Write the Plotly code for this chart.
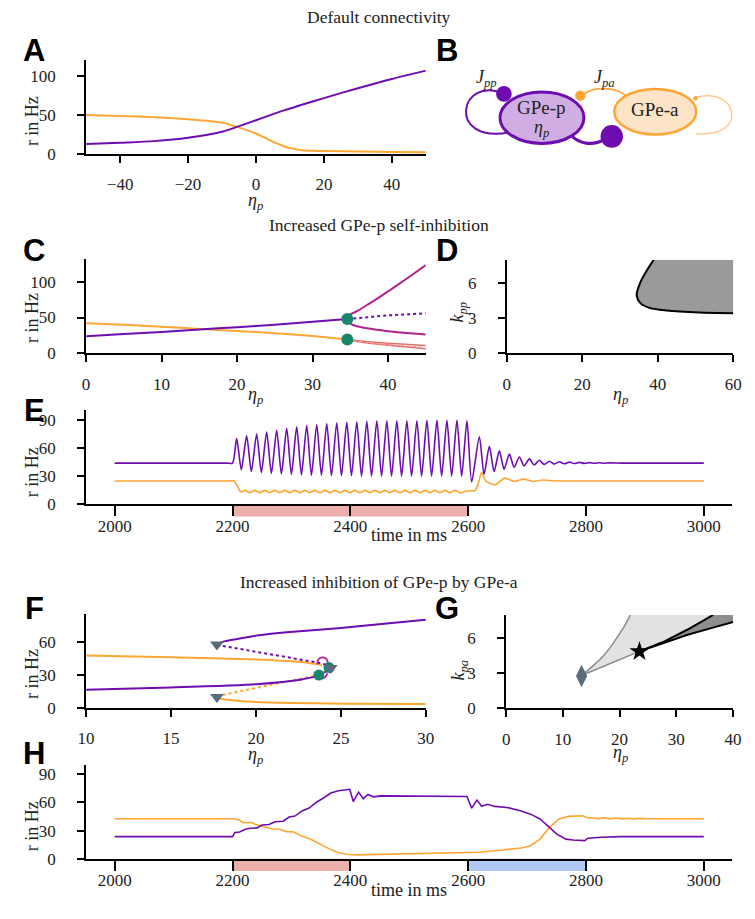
import plotly.graph_objects as go

W, H = 755, 919
SERIF = 'Liberation Serif'
SANS = 'Liberation Sans'
TXT = '#222222'
PURPLE = '#6E0CB0'
ORANGE = '#FFA533'
MAGENTA = '#B0228C'
SALMON = '#E4736E'
TEAL = '#17876B'
SLATE = '#5C6B7A'
RED_BAR = '#EBB0AB'
BLUE_BAR = '#AEC8F2'

# ---------------- data ----------------
# Panel A (default connectivity, steady states vs eta_p)
A_eta = [-50, -40, -30, -20, -10, -5.6, 0, 4, 8.7, 10.6, 13.5, 20, 30, 40, 50]
A_p = [12.7, 14.4, 16.5, 20.8, 28.5, 34.7, 43.2, 49.5, 56.5, 59, 63, 71.6, 84.3, 96.2, 106.8]
A_a = [50, 48.8, 47.2, 44.6, 40.2, 34.7, 26.3, 17.8, 9.3, 7.2, 4.7, 3.8, 3.1, 2.7, 2.4]

# Panel C (increased self-inhibition)
C_eta = [0, 5, 10, 15, 20, 25, 30, 34.6]
C_p = [24, 27, 30, 33.5, 36.5, 40, 44, 48]
C_a = [42, 40, 37.3, 34, 31.3, 28.2, 24.3, 19.4]
C_unst_eta = [34.6, 37, 40, 45]
C_unst_p = [48, 50.5, 53, 56]
C_unst_a = [19.4, 15.2, 12.2, 8.6]
C_lc_eta = [34.6, 34.7, 34.9, 35.3, 36, 37.2, 38.5, 40, 42.5, 45]
C_lc_p_max = [48, 51, 53.5, 56, 59.5, 67.5, 76, 86.5, 104.5, 123]
C_lc_p_min = [48, 45, 42.5, 40, 37.5, 35, 33, 31, 28.5, 26.3]
C_lc_a_eta = [34.6, 35.5, 37, 40, 45]
C_lc_a_max = [19.4, 18.2, 16.6, 14.2, 11]
C_lc_a_min = [19.4, 17.2, 14.8, 11.6, 6.4]
C_hopf_eta = [34.6, 34.6]
C_hopf_r = [48, 19.4]

# Panel D (Hopf boundary in eta_p / k_pp plane)
D_eta = [38.9, 37.1, 35.4, 34.4, 35.4, 38.0, 42.3, 51, 60]
D_k = [8.0, 7.1, 6.1, 5.0, 4.3, 3.87, 3.67, 3.5, 3.44]
D_xmax, D_ymax = 60, 8

# Panel E (time series, stimulation 2200-2600 ms)
E_stim = [2200, 2600]
E_p_t = [2000, 2190, 2200,
         2207, 2215, 2224, 2232, 2241, 2249, 2258, 2266, 2275, 2283, 2292, 2300,
         2309, 2317, 2326, 2334, 2343, 2351, 2360, 2368, 2377, 2385, 2394, 2402,
         2411, 2419, 2428, 2436, 2445, 2453, 2462, 2470, 2479, 2487, 2496, 2504,
         2513, 2521, 2530, 2538, 2547, 2555, 2564, 2572, 2581, 2589, 2598,
         2606, 2619, 2627, 2636, 2644, 2653, 2661, 2670, 2678, 2687, 2695, 2704,
         2712, 2721, 2729, 2738, 2746, 2755, 2763, 2772, 2780, 2789, 2797, 2806,
         2814, 2823, 2831, 2840, 2860, 2900, 3000]
E_p_r = [44, 44, 44,
         70, 37, 73, 35, 75, 34, 77, 33, 79, 32.5, 81, 32,
         82.5, 31.5, 84, 31, 85, 31, 86, 30.5, 87, 30.5, 87.5, 30.5,
         88, 30, 88.5, 30, 89, 30, 89, 30, 89, 30, 89, 30,
         89, 30, 89.5, 30, 89.5, 30, 89.5, 30, 89.5, 30, 89,
         24, 72, 32, 62, 35, 57, 37.5, 53.5, 39.5, 50.5, 41, 48.5,
         42, 47, 42.5, 46, 43, 45.5, 43.3, 45, 43.5, 44.8, 43.7, 44.5,
         43.8, 44.3, 43.9, 44.2, 44, 44, 44]
E_a_t = [2000, 2190, 2203, 2208, 2214,
         2221, 2229, 2238, 2246, 2255, 2263, 2272, 2280, 2289, 2297, 2306, 2314,
         2323, 2331, 2340, 2348, 2357, 2365, 2374, 2382, 2391, 2399, 2408, 2416,
         2425, 2433, 2442, 2450, 2459, 2467, 2476, 2484, 2493, 2501, 2510, 2518,
         2527, 2535, 2544, 2552, 2561, 2569, 2578, 2586, 2595,
         2604, 2612, 2617, 2623, 2630, 2646, 2662, 2678, 2694, 2710, 2726, 2745, 2770, 2850, 3000]
E_a_r = [25, 25, 25, 20, 13.4,
         15, 12.5, 15, 12.5, 15, 12.5, 15, 12.5, 15, 12.5, 15, 12.5,
         15, 12.5, 15, 12.5, 15, 12.5, 15, 12.5, 15, 12.5, 15, 12.5,
         15, 12.5, 15, 12.5, 15, 12.5, 15, 12.5, 15, 12.5, 15, 12.5,
         15, 12.5, 15, 12.5, 15, 12.5, 15, 12.5, 14,
         14.5, 15, 22, 34, 25, 21, 28, 24.5, 27, 24.5, 26, 25.2, 25, 25, 25]

# Panel F (increased inhibition of GPe-p by GPe-a)
F_up_p_eta = [17.7, 18.2, 18.9, 20, 22, 25, 28, 30]
F_up_p = [58.5, 61, 63, 66, 69.3, 73, 77.5, 80.4]
F_mid_p_eta = [17.7, 19, 20.4, 22, 23.6, 24.1, 24.35]
F_mid_p = [57.5, 54, 50, 46, 41.5, 39.5, 37]
F_low_p_eta = [10, 15, 20, 22.7, 23.7]
F_low_p = [16.6, 18.7, 21.7, 26, 29.5]
F_lu_p_eta = [23.7, 24.1, 24.35]
F_lu_p = [29.5, 33, 37]
F_up_a_eta = [10, 15, 20, 22.5, 23.7]
F_up_a = [47.9, 46.3, 44.3, 42.2, 39.8]
F_uu_a_eta = [23.7, 24.35]
F_uu_a = [39.8, 37]
F_mid_a_eta = [24.35, 23.7, 22, 20, 17.7]
F_mid_a = [36, 30, 24.7, 18.4, 10.8]
F_low_a_eta = [17.7, 18.2, 18.9, 20, 22, 25, 30]
F_low_a = [9, 7.6, 6.6, 5.4, 4.5, 3.9, 3.6]
F_lc1_eta = [23.63, 23.63, 23.77, 23.92, 24.07, 24.21, 24.21]
F_lc1_r = [39.7, 42.9, 45.5, 46.1, 45.5, 42.9, 39.7]
F_lc2_eta = [23.7, 23.9, 24.1, 24.2]
F_lc2_r = [27.5, 26.8, 28.5, 31.5]
F_fold_eta = [17.7, 17.7, 24.4]
F_fold_r = [58, 10, 36.5]
F_hopf_eta = [23.7, 24.3]
F_hopf_r = [30, 36.8]

# Panel G (eta_p / k_pa plane)
G_gray_eta = [13.3, 15, 16.8, 18.5, 19.6, 20.8, 21.9]
G_gray_k = [2.8, 3.5, 4.3, 5.3, 6.1, 7.0, 8.0]
G_line_eta = [13.3, 23.5]
G_line_k = [2.8, 4.87]
G_up_eta = [23.5, 28, 32, 36.5]
G_up_k = [4.87, 5.75, 6.75, 8.0]
G_lo_eta = [23.5, 28, 32, 36, 40]
G_lo_k = [4.87, 5.65, 6.3, 6.85, 7.4]
G_xmax, G_ymax = 40, 8
G_ct_eta, G_ct_k = [13.3], [2.76]
G_star_eta, G_star_k = [23.5], [4.87]

# Panel H (time series, two stimuli)
H_stim1 = [2200, 2400]
H_stim2 = [2600, 2800]
H_p_t = [2000, 2200, 2204, 2212, 2222, 2230, 2242, 2250, 2262, 2272, 2286, 2296, 2306,
         2318, 2330, 2342, 2355, 2367, 2380, 2399, 2405, 2414, 2422, 2430, 2439, 2452,
         2598, 2606, 2615, 2623, 2633, 2645, 2666, 2690, 2706, 2722, 2738, 2750, 2766,
         2778, 2798, 2803, 2826, 2858, 3000]
H_p_r = [23.7, 23.7, 28, 28.5, 31.5, 32.5, 33, 36, 36.5, 39.5, 40, 44.5, 45.5,
         51, 54, 60, 65, 70, 72.5, 74, 61, 71, 64, 68.5, 66, 67,
         66.4, 54, 62.5, 56, 58, 55.8, 54.7, 51, 47.6, 42.4, 33.5, 26.5, 21,
         20, 19.4, 22, 23, 23.7, 23.7]
H_a_t = [2000, 2204, 2212, 2218, 2226, 2232, 2240, 2256, 2268, 2280, 2292, 2304, 2316,
         2332, 2348, 2364, 2380, 2396, 2412, 2460, 2598, 2618, 2658, 2690, 2706, 2722,
         2738, 2754, 2770, 2794, 2802, 2812, 2822, 2832, 2842, 2852, 2862, 2872, 2882,
         2892, 2905, 3000]
H_a_r = [42.7, 42.7, 41, 38.5, 38.5, 39, 36.4, 33.5, 31.8, 31.5, 29, 28.5, 24.7,
         21.2, 15.9, 10.6, 6.4, 4.6, 4.2, 4.9, 6.2, 7, 9.5, 11.6, 14, 21,
         33.5, 42.4, 45.2, 45.9, 44, 43.5, 42.8, 43.6, 42.6, 43.4, 42.5, 43.2, 42.6,
         43.1, 42.7, 42.7]

# ---------------- figure ----------------
fig = go.Figure()


def line(x, y, color, ax, width=2, dash=None, shape='linear', smoothing=1.0):
    fig.add_trace(go.Scatter(x=x, y=y, mode='lines', xaxis='x' + ax, yaxis='y' + ax,
                             line=dict(color=color, width=width, dash=dash, shape=shape,
                                       smoothing=smoothing if shape == 'spline' else None),
                             hoverinfo='skip', showlegend=False))


def marks(x, y, ax, symbol, color, size):
    fig.add_trace(go.Scatter(x=x, y=y, mode='markers', xaxis='x' + ax, yaxis='y' + ax,
                             marker=dict(symbol=symbol, color=color, size=size, line=dict(width=0)),
                             hoverinfo='skip', showlegend=False, cliponaxis=False))


# A
line(A_eta, A_a, ORANGE, '', shape='spline', smoothing=0.8)
line(A_eta, A_p, PURPLE, '', shape='spline', smoothing=0.8)

# C
line(C_eta, C_a, ORANGE, '3', shape='spline', smoothing=0.6)
line(C_eta, C_p, PURPLE, '3', shape='spline', smoothing=0.6)
line(C_unst_eta, C_unst_p, PURPLE, '3', dash='dot')
line(C_lc_a_eta, C_lc_a_max, SALMON, '3', width=1.6, shape='spline', smoothing=0.6)
line(C_lc_a_eta, C_lc_a_min, SALMON, '3', width=1.6, shape='spline', smoothing=0.6)
line(C_unst_eta, C_unst_a, '#F0A0A0', '3', width=1.2, dash='dot')
line(C_lc_eta, C_lc_p_max, MAGENTA, '3', shape='spline', smoothing=0.8)
line(C_lc_eta, C_lc_p_min, MAGENTA, '3', shape='spline', smoothing=0.8)
marks(C_hopf_eta, C_hopf_r, '3', 'circle', TEAL, 12)

# D
fig.add_trace(go.Scatter(x=D_eta + [D_xmax, D_eta[0]], y=D_k + [D_ymax, D_k[0]], mode='lines',
                         xaxis='x4', yaxis='y4', fill='toself', fillcolor='#9A9A9A',
                         line=dict(width=0, color='rgba(0,0,0,0)'), hoverinfo='skip', showlegend=False))
line(D_eta, D_k, 'black', '4', width=2, shape='spline', smoothing=0.8)

# E
line(E_a_t, E_a_r, ORANGE, '5', width=1.6, shape='spline', smoothing=0.7)
line(E_p_t, E_p_r, PURPLE, '5', width=1.6, shape='spline', smoothing=0.7)

# F
line(F_low_a_eta, F_low_a, ORANGE, '6', shape='spline', smoothing=0.6)
line(F_mid_a_eta, F_mid_a, ORANGE, '6', dash='dot')
line(F_uu_a_eta, F_uu_a, ORANGE, '6', dash='dot')
line(F_up_a_eta, F_up_a, ORANGE, '6', shape='spline', smoothing=0.6)
line(F_up_p_eta, F_up_p, PURPLE, '6', shape='spline', smoothing=0.6)
line(F_mid_p_eta, F_mid_p, PURPLE, '6', dash='dot')
line(F_lu_p_eta, F_lu_p, PURPLE, '6', dash='dot')
line(F_low_p_eta, F_low_p, PURPLE, '6', shape='spline', smoothing=0.6)
line(F_lc1_eta, F_lc1_r, MAGENTA, '6', width=1.8, shape='spline', smoothing=1)
line(F_lc2_eta, F_lc2_r, MAGENTA, '6', width=1.8, shape='spline', smoothing=1)
marks(F_hopf_eta, F_hopf_r, '6', 'circle', TEAL, 11)
marks(F_fold_eta, F_fold_r, '6', 'triangle-down', SLATE, 12)

# G
G_light_x = G_gray_eta + G_up_eta[::-1] + G_line_eta[::-1]
G_light_y = G_gray_k + G_up_k[::-1] + G_line_k[::-1]
fig.add_trace(go.Scatter(x=G_light_x, y=G_light_y, mode='lines', xaxis='x7', yaxis='y7',
                         fill='toself', fillcolor='#E2E2E2', line=dict(width=0, color='rgba(0,0,0,0)'),
                         hoverinfo='skip', showlegend=False))
G_dark_x = G_up_eta + [G_xmax] + G_lo_eta[::-1]
G_dark_y = G_up_k + [G_ymax] + G_lo_k[::-1]
fig.add_trace(go.Scatter(x=G_dark_x, y=G_dark_y, mode='lines', xaxis='x7', yaxis='y7',
                         fill='toself', fillcolor='#8E8E8E', line=dict(width=0, color='rgba(0,0,0,0)'),
                         hoverinfo='skip', showlegend=False))
line(G_gray_eta, G_gray_k, '#8A8A8A', '7', width=1.5, shape='spline', smoothing=0.8)
line(G_line_eta, G_line_k, '#8A8A8A', '7', width=1.5)
line(G_up_eta, G_up_k, 'black', '7', width=2)
line(G_lo_eta, G_lo_k, 'black', '7', width=2)
marks(G_ct_eta, G_ct_k, '7', 'diamond-tall', SLATE, 16)
marks(G_star_eta, G_star_k, '7', 'star', 'black', 15)

# H
line(H_a_t, H_a_r, ORANGE, '8', width=1.6)
line(H_p_t, H_p_r, PURPLE, '8', width=1.6)

# ---------------- axes ----------------
TICKSIZE = 17


def dx(a, b):
    return [a / W, b / W]


def dy(top, bottom):
    return [1 - bottom / H, 1 - top / H]


def axis(domain, rng, tickvals, anchor, ticklen=7, standoff=6, **kw):
    d = dict(domain=domain, range=rng, tickvals=tickvals, anchor=anchor, showline=True,
             linecolor='black', linewidth=2, ticks='outside', ticklen=ticklen, tickwidth=1.5,
             tickcolor='black', showgrid=False, zeroline=False, fixedrange=True,
             ticklabelstandoff=standoff,
             tickfont=dict(family=SERIF, size=TICKSIZE, color=TXT))
    d.update(kw)
    return d


XS = 7   # x tick label standoff
YS = 18  # y tick label standoff
TS = -5  # time-axis tick label standoff
layout = dict(
    width=W, height=H, margin=dict(l=0, r=0, t=0, b=0), autosize=False,
    paper_bgcolor='white', plot_bgcolor='white', showlegend=False,
    font=dict(family=SERIF, size=16, color=TXT),
    xaxis=axis(dx(79, 427), [-50, 50], [-40, -20, 0, 20, 40], 'y', standoff=XS),
    yaxis=axis(dy(61, 155.7), [0, 120], [0, 50, 100], 'x', standoff=YS),
    xaxis2=dict(domain=dx(440, 755), range=[440, 755], visible=False, anchor='y2', fixedrange=True),
    yaxis2=dict(domain=dy(40, 170), range=[170, 40], visible=False, anchor='x2', fixedrange=True),
    xaxis3=axis(dx(79, 427), [0, 45], [0, 10, 20, 30, 40], 'y3', standoff=XS),
    yaxis3=axis(dy(262.3, 357.3), [0, 131], [0, 50, 100], 'x3', standoff=YS),
    xaxis4=axis(dx(510, 742), [0, 60], [0, 20, 40, 60], 'y4', standoff=XS),
    yaxis4=axis(dy(262.7, 357.3), [0, 8], [0, 3, 6], 'x4', standoff=YS),
    xaxis5=axis(dx(79, 741), [1951.5, 3048.5], [2000, 2200, 2400, 2600, 2800, 3000], 'y5',
                ticklen=10, standoff=TS),
    yaxis5=axis(dy(415, 510), [0, 100], [0, 30, 60, 90], 'x5', standoff=YS),
    xaxis6=axis(dx(79, 427), [10, 30], [10, 15, 20, 25, 30], 'y6', standoff=XS),
    yaxis6=axis(dy(620.7, 715.7), [0, 85.8], [0, 30, 60], 'x6', standoff=YS),
    xaxis7=axis(dx(509.3, 741.7), [0, 40], [0, 10, 20, 30, 40], 'y7', standoff=XS),
    yaxis7=axis(dy(621.7, 716), [0, 8], [0, 3, 6], 'x7', standoff=YS),
    xaxis8=axis(dx(79, 741), [1951.5, 3048.5], [2000, 2200, 2400, 2600, 2800, 3000], 'y8',
                ticklen=10, standoff=TS),
    yaxis8=axis(dy(773.3, 868.3), [0, 100], [0, 30, 60, 90], 'x8', standoff=YS),
)

shapes = []
# stimulation bars below time axes
for (a, b), ax, col in [(E_stim, '5', RED_BAR), (H_stim1, '8', RED_BAR), (H_stim2, '8', BLUE_BAR)]:
    shapes.append(dict(type='rect', xref='x' + ax, yref='y' + ax + ' domain', x0=a, x1=b,
                       y0=-0.128, y1=0, fillcolor=col, line=dict(width=0), layer='below'))

# Panel B schematic (coordinates in the schematic's own pixel frame)
sb = dict(xref='x2', yref='y2')
shapes += [
    dict(type='path', path='M 507 95 C 462 75 447 145 512 134', line=dict(color=PURPLE, width=2), **sb),
    dict(type='path', path='M 703 99 C 745 85 760 140 704 135', line=dict(color='#FFC27A', width=1.2), **sb),
    dict(type='path', path='M 632 97 C 622 88 600 87 589 95', line=dict(color=ORANGE, width=1.6), **sb),
    dict(type='path', path='M 575 136 C 585 147 600 147 610 141', line=dict(color=PURPLE, width=3.2), **sb),
    dict(type='circle', x0=503, x1=589, y0=93, y1=145, fillcolor='#D0AEE4',
         line=dict(color=PURPLE, width=3), **sb),
    dict(type='circle', x0=620, x1=704, y0=90, y1=136, fillcolor='#FEE4C6',
         line=dict(color=ORANGE, width=2.5), **sb),
    dict(type='circle', x0=499, x1=515, y0=87, y1=103, fillcolor=PURPLE, line=dict(width=0), **sb),
    dict(type='circle', x0=606, x1=629, y0=126.5, y1=149.5, fillcolor=PURPLE, line=dict(width=0), **sb),
    dict(type='circle', x0=580, x1=590.5, y0=91.5, y1=102, fillcolor=ORANGE, line=dict(width=0), **sb),
    dict(type='circle', x0=701, x1=705.5, y0=97, y1=101.5, fillcolor=ORANGE, line=dict(width=0), **sb),
]
layout['shapes'] = shapes

ann = []


def text(x, y, s, size=17.5, family=SERIF, angle=0, ref=('paper', 'paper'), color=TXT):
    if ref == ('paper', 'paper'):
        x, y = x / W, 1 - y / H
    ann.append(dict(x=x, y=y, xref=ref[0], yref=ref[1], text=s, showarrow=False,
                    xanchor='center', yanchor='middle', textangle=angle,
                    font=dict(family=family, size=size, color=color)))


# section titles
text(379, 17, 'Default connectivity')
text(379, 227, 'Increased GPe-p self-inhibition')
text(379, 588, 'Increased inhibition of GPe-p by GPe-a')
# panel letters
for L, x, y in [('A', 26, 51), ('B', 449, 51), ('C', 26, 253), ('D', 449, 253), ('E', 26, 415),
                ('F', 26, 615), ('G', 449, 615), ('H', 26, 762)]:
    text(x, y, '<b>' + L + '</b>', size=31, family=SANS, color='black')
# axis titles
ETA = '<i>η</i><sub><i>p</i></sub>'
for x, y in [(253, 204), (253, 400), (626, 400), (253, 764), (626, 762)]:
    text(x, y, ETA, size=18)
for y in [541, 900]:
    text(410, y, 'time in ms', size=18)
for y in [122, 321, 477, 681, 835]:
    text(23, y, 'r in Hz', angle=-90, size=18)
text(461, 316, '<i>k</i><sub><i>pp</i></sub>', angle=-90, size=18)
text(462, 677, '<i>k</i><sub><i>pa</i></sub>', angle=-90, size=18)
# schematic labels
text(545, 109, 'GPe-p', size=19, ref=('x2', 'y2'))
text(546, 130, ETA, size=18, ref=('x2', 'y2'))
text(662, 111, 'GPe-a', size=19, ref=('x2', 'y2'))
text(489, 79, '<i>J</i><sub><i>pp</i></sub>', size=18, ref=('x2', 'y2'))
text(610, 79, '<i>J</i><sub><i>pa</i></sub>', size=18, ref=('x2', 'y2'))
layout['annotations'] = ann

fig.update_layout(**layout)
fig.write_html('out.html')
